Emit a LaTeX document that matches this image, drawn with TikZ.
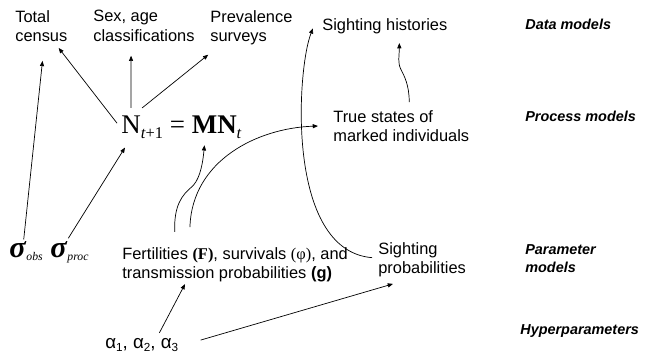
\documentclass[tikz,border=0pt]{standalone}
\usepackage{fontspec}
\setmainfont{Liberation Sans}
\newfontfamily\timesfont{Liberation Serif}
\usetikzlibrary{arrows.meta}
\newcommand\eqsub[1]{\raisebox{-5pt}{\fontsize{14}{14}\selectfont #1}}
\newcommand\sigsub[1]{\raisebox{-3pt}{\fontsize{10}{10}\selectfont\itshape #1}}
\newcommand\alsub[1]{\raisebox{-3pt}{\fontsize{10}{10}\selectfont #1}}
\tikzset{
  every picture/.style={line width=0.6pt},
  lbl/.style={font=\fontsize{14}{16.5}\selectfont, align=left, inner sep=0pt, anchor=north west},
  level/.style={font=\fontsize{12.3}{15.5}\selectfont\bfseries\itshape, align=left, inner sep=0pt, anchor=north west},
  sym/.style={inner sep=0pt, anchor=base west},
  arrow/.style={-{Triangle[length=4.5pt,width=3.5pt]}, draw=black},
}
\begin{document}
\begin{tikzpicture}[x=0.3mm, y=-0.3mm]
  \useasboundingbox (0,0) rectangle (649,354);
  % data level
  \node[lbl] (census) at (15,10) {Total\\census};
  \node[lbl] (sexage) at (93,10) {Sex, age\\classifications};
  \node[lbl] (preval) at (210,10) {Prevalence\\surveys};
  \node[lbl] (histories) at (322,18) {Sighting histories};
  % process level
  \node[sym, anchor=north west, font=\timesfont\fontsize{23}{26}\selectfont] (eq) at (121,115)
    {N\eqsub{\textit{t}+1} = \textbf{MN}\eqsub{\textit{t}}};
  \node[lbl] (truestates) at (333,110) {True states of\\marked individuals};
  % parameter level
  \node[sym, font=\timesfont\fontsize{26}{26}\selectfont] (sigobs) at (9,257) {\textbf{\textit{σ}}\sigsub{obs}};
  \node[sym, font=\timesfont\fontsize{26}{26}\selectfont] (sigproc) at (50,257) {\textbf{\textit{σ}}\sigsub{proc}};
  \node[lbl] (fert) at (122,247) {Fertilities {\timesfont\bfseries(F)}, survivals {\timesfont(φ)}, and\\transmission probabilities \textbf{(g)}};
  \node[lbl] (sprob) at (378,242) {Sighting\\probabilities};
  \node[sym, font=\fontsize{16}{16}\selectfont] (alpha) at (105,348) {α\alsub{1}, α\alsub{2}, α\alsub{3}};
  % level names
  \node[level] (datam) at (525,19) {Data models};
  \node[level] (processm) at (525,111) {Process models};
  \node[level] (paramm) at (525,244) {Parameter\\models};
  \node[level] (hyper) at (520,324) {Hyperparameters};
  % connectors
  \draw[arrow] ([xshift=-2pt,yshift=1pt]sigobs.north) -- ([xshift=1pt,yshift=-16pt]census.south);
  \draw[arrow] ([xshift=-1pt,yshift=2pt]sigproc.north) -- ([xshift=3.4pt,yshift=-7pt]eq.south west);
  \draw[arrow] ([xshift=-3.4pt,yshift=3.4pt]eq.west) -- ([xshift=-7.7pt,yshift=-5pt]census.south east);
  \draw[arrow] ([xshift=8.5pt,yshift=6pt]eq.north west) -- ([xshift=-11pt,yshift=-12pt]sexage.south);
  \draw[arrow] ([xshift=18pt,yshift=6pt]eq.north west) -- ([xshift=-1.5pt,yshift=-8pt]preval.south west);
  \draw[arrow] ([xshift=45pt,yshift=13pt]fert.north west) .. controls +(-1,-27) and +(-8,7) .. +(16,-44)
    .. controls +(8,-6) and +(-2,22) .. ([xshift=19.6pt,yshift=-5pt]eq.south);
  \draw[arrow] ([xshift=58pt,yshift=17pt]fert.north west) .. controls +(2,-67) and +(-60,2) .. ([xshift=-12.8pt]truestates.west);
  \draw[arrow] ([xshift=-5pt,yshift=1.7pt]sprob.west) .. controls +(-87,-7) and +(-16,40) .. ([xshift=-7.7pt,yshift=-2pt]histories.west);
  \draw[arrow] ([xshift=6.8pt,yshift=6.8pt]truestates.north) .. controls +(0,-17) and +(3,6) .. +(-8,-32)
    .. controls +(-4,-7) and +(0,13) .. ([xshift=12.4pt,yshift=-7.7pt]histories.south);
  \draw[arrow] ([xshift=15pt,yshift=4pt]alpha.north) -- ([xshift=53.8pt,yshift=-1.4pt]fert.south west);
  \draw[arrow] ([xshift=18.8pt,yshift=4pt]alpha.east) -- ([xshift=12.8pt,yshift=-5.6pt]sprob.south west);
\end{tikzpicture}
\end{document}
